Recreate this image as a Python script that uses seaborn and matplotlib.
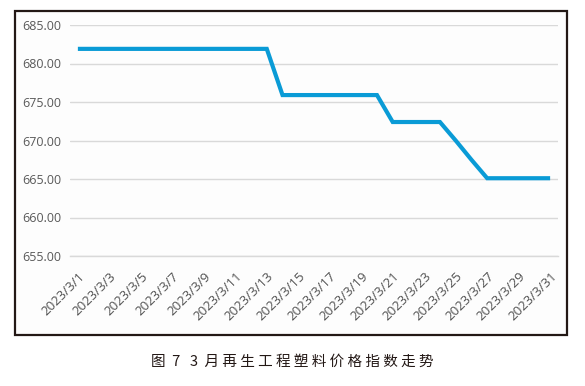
import pandas as pd
import numpy as np
import matplotlib
matplotlib.use("Agg")
import matplotlib.pyplot as plt
import seaborn as sns
from matplotlib.patches import Rectangle

# data
dates = ["2023/3/%d" % d for d in range(1, 32)]
prices = [681.9] * 13 + [675.9] * 7 + [672.4] * 4 + [670.0, 667.5] + [665.1] * 5
y_ticks = [655, 660, 665, 670, 675, 680, 685]
caption = "图  7   3  月 再 生 工 程 塑 料 价 格 指 数 走 势"

df = pd.DataFrame({"date": dates, "price": prices})
df["idx"] = range(len(df))

sns.set_theme(style="white")
plt.rcParams["font.family"] = ["Open Sans", "Noto Sans CJK SC", "DejaVu Sans"]

fig = plt.figure(figsize=(5.85, 3.86), dpi=100)
W, H = 585, 386

# outer frame
fig.patches.append(Rectangle((15 / W, 1 - 335 / H), (567 - 15) / W, (335 - 11) / H,
                             transform=fig.transFigure, facecolor="#fdfdfd",
                             edgecolor="#231815", linewidth=1.6, zorder=-5))

ax = fig.add_axes([70 / W, 1 - 256 / H, (558 - 70) / W, (256 - 25) / H])
ax.set_facecolor("none")

sns.lineplot(data=df, x="idx", y="price", ax=ax, color="#0a9bd6",
             linewidth=3.0, solid_capstyle="butt", solid_joinstyle="miter")

ax.set_xlim(-0.5, 30.5)
ax.set_ylim(655, 685)
ax.set_yticks(y_ticks)
ax.set_yticklabels(["%.2f" % v for v in y_ticks])
ax.yaxis.grid(True, color="#d9d9d9", linewidth=1.0)
ax.set_axisbelow(True)

# labels every 2 days, tick marks between categories
ax.set_xticks(df["idx"][::2])
ax.set_xticklabels(df["date"][::2], rotation=45, ha="right", rotation_mode="anchor")
ax.set_xticks(np.arange(-0.5, 30.6, 2), minor=True)
ax.tick_params(axis="x", which="major", length=0, pad=10, labelsize=9.5, labelcolor="#505050")
ax.tick_params(axis="x", which="minor", length=4, width=1, color="#d9d9d9", direction="out")
ax.tick_params(axis="y", length=0, pad=6, labelsize=9, labelcolor="#595959")
ax.set_xlabel("")
ax.set_ylabel("")

for s in ["left", "right", "top"]:
    ax.spines[s].set_visible(False)
ax.spines["bottom"].set_color("#d9d9d9")
ax.spines["bottom"].set_linewidth(1.0)

fig.text(0.5, 1 - 362 / H, caption, ha="center", va="center", fontsize=10.5,
         family=["Noto Sans CJK SC", "DejaVu Sans"], color="#231815")

fig.savefig("out.png", dpi=100)
